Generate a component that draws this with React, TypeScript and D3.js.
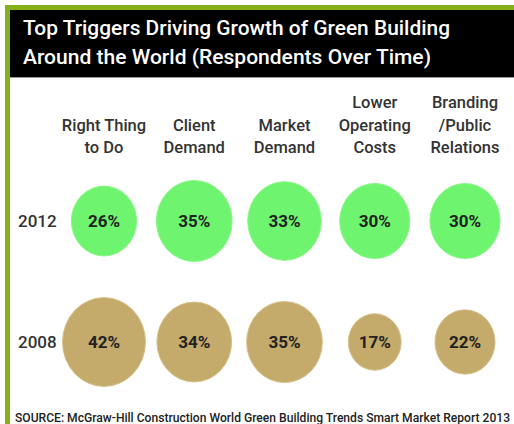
import React from "react";
import * as d3 from "d3";

const categories: string[][] = [
  ["Right Thing", "to Do"],
  ["Client", "Demand"],
  ["Market", "Demand"],
  ["Lower", "Operating", "Costs"],
  ["Branding", "/Public", "Relations"],
];
const years = ["2012", "2008"];
const values2012 = [26, 35, 33, 30, 30];
const values2008 = [42, 34, 35, 17, 22];
const seriesValues = [values2012, values2008];
const titleLines = [
  "Top Triggers Driving Growth of Green Building",
  "Around the World (Respondents Over Time)",
];
const sourceText =
  "SOURCE: McGraw-Hill Construction World Green Building Trends Smart Market Report 2013";

const W = 514;
const H = 424;
const FONT = "Roboto, 'DejaVu Sans', sans-serif";
const rowColors = ["#6ef46e", "#c4aa6b"];
const rowStroke = ["#8af78a", "#d6c08a"];

export default function App() {
  const keys = categories.map((c) => c.join(" "));
  const x = d3.scalePoint<string>().domain(keys).range([104, 465]);
  const y = d3.scalePoint<string>().domain(years).range([221, 342]);
  const r = d3.scaleSqrt().domain([0, 42]).range([0, 41.5]);
  const yStretch = 1.07;

  return (
    <svg
      width={W}
      height={H}
      style={{ position: "absolute", left: 0, top: 0, background: "#fff" }}
      fontFamily={FONT}
    >
      <rect x={0} y={0} width={W} height={H} fill="#fff" />
      {/* green frame */}
      <rect x={5} y={5} width={W - 5} height={5} fill="#86b01a" />
      <rect x={5} y={5} width={5} height={H} fill="#86b01a" />
      {/* black header */}
      <rect x={10} y={10} width={W - 10} height={67} fill="#000" />
      <line x1={10} x2={W} y1={77.5} y2={77.5} stroke="#9a9a9a" strokeWidth={1} />
      {titleLines.map((t, i) => (
        <text
          key={t}
          x={23}
          y={35 + i * 28.5}
          fill="#fff"
          fontSize={21}
          fontWeight={500}
          textLength={i === 0 ? 427 : 408}
          lengthAdjust="spacingAndGlyphs"
        >
          {t}
        </text>
      ))}
      {/* column labels */}
      {categories.map((lines, ci) => (
        <text
          key={keys[ci]}
          x={x(keys[ci])}
          textAnchor="middle"
          fill="#333"
          fontSize={16.5}
          fontWeight={500}
        >
          {lines.map((ln, li) => (
            <tspan key={ln} x={x(keys[ci])} y={153 - (lines.length - 1 - li) * 22.5}>
              {ln}
            </tspan>
          ))}
        </text>
      ))}
      {/* year labels */}
      {years.map((yr) => (
        <text
          key={yr}
          x={18}
          y={(y(yr) as number) + 6}
          fill="#333"
          fontSize={17}
          fontWeight={500}
        >
          {yr}
        </text>
      ))}
      {/* bubbles */}
      {years.map((yr, yi) =>
        seriesValues[yi].map((v, ci) => {
          const cx = x(keys[ci]) as number;
          const cy = y(yr) as number;
          const rr = r(v);
          return (
            <g key={yr + ci}>
              <ellipse
                cx={cx}
                cy={cy}
                rx={rr}
                ry={rr * yStretch}
                fill={rowColors[yi]}
                stroke={rowStroke[yi]}
                strokeWidth={1}
              />
              <text
                x={cx}
                y={cy + 6}
                textAnchor="middle"
                fill="#222"
                fontSize={17}
                fontWeight={700}
              >
                {v}%
              </text>
            </g>
          );
        })
      )}
      {/* source */}
      <text
        x={15}
        y={422}
        fill="#222"
        fontSize={12}
        fontWeight={500}
        textLength={495}
        lengthAdjust="spacingAndGlyphs"
      >
        {sourceText}
      </text>
    </svg>
  );
}
